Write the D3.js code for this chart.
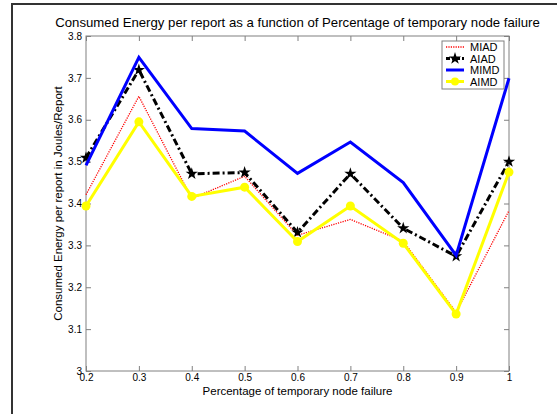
<!DOCTYPE html>
<html>
<head>
<meta charset="utf-8">
<title>Consumed Energy per report</title>
<script src="https://d3js.org/d3.v7.min.js"></script>
<style>
  body { margin: 0; background: #fff; }
  svg { display: block; font-family: Arial, "Liberation Sans", sans-serif; }
</style>
</head>
<body>
<script>
var failure = [0.2, 0.3, 0.4, 0.5, 0.6, 0.7, 0.8, 0.9, 1.0];
var miad = [3.421, 3.656, 3.412, 3.465, 3.324, 3.362, 3.31, 3.14, 3.383];
var aiad = [3.509, 3.719, 3.471, 3.474, 3.331, 3.471, 3.341, 3.274, 3.50];
var mimd = [3.491, 3.749, 3.579, 3.573, 3.472, 3.547, 3.45, 3.276, 3.699];
var aimd = [3.394, 3.595, 3.417, 3.439, 3.309, 3.394, 3.305, 3.136, 3.475];
var seriesNames = ["MIAD", "AIAD", "MIMD", "AIMD"];
var xTicks = [0.2, 0.3, 0.4, 0.5, 0.6, 0.7, 0.8, 0.9, 1];
var yTicks = [3, 3.1, 3.2, 3.3, 3.4, 3.5, 3.6, 3.7, 3.8];

var width = 557, height = 414;
var plotL = 86, plotR = 509, plotT = 36, plotB = 371;

var svg = d3.select("body").append("svg")
  .attr("width", width).attr("height", height);

// outer figure frame (top and left edges only visible)
svg.append("path")
  .attr("d", "M12,414 L12,4 L557,4")
  .attr("fill", "none").attr("stroke", "#333").attr("stroke-width", 2);

var x = d3.scaleLinear().domain([0.2, 1]).range([plotL, plotR]);
var y = d3.scaleLinear().domain([3, 3.8]).range([plotB, plotT]);

var axisColor = "#808080";

// plot box
svg.append("rect")
  .attr("x", plotL).attr("y", plotT)
  .attr("width", plotR - plotL).attr("height", plotB - plotT)
  .attr("fill", "#fff").attr("stroke", axisColor).attr("stroke-width", 1);

function styleAxis(g) {
  g.select(".domain").remove();
  g.selectAll(".tick line").attr("stroke", axisColor);
  g.selectAll(".tick text").attr("fill", "#000").attr("font-size", 10);
}

svg.append("g").attr("transform", "translate(0," + plotB + ")")
  .call(d3.axisBottom(x).tickValues(xTicks).tickFormat(d3.format("")).tickSizeInner(-5).tickSizeOuter(0).tickPadding(3))
  .call(styleAxis);
svg.append("g").attr("transform", "translate(0," + plotT + ")")
  .call(d3.axisTop(x).tickValues(xTicks).tickFormat("").tickSizeInner(-5).tickSizeOuter(0))
  .call(styleAxis);
svg.append("g").attr("transform", "translate(" + plotL + ",0)")
  .call(d3.axisLeft(y).tickValues(yTicks).tickFormat(d3.format("")).tickSizeInner(-5).tickSizeOuter(0).tickPadding(4))
  .call(styleAxis);
svg.append("g").attr("transform", "translate(" + plotR + ",0)")
  .call(d3.axisRight(y).tickValues(yTicks).tickFormat("").tickSizeInner(-5).tickSizeOuter(0))
  .call(styleAxis);

var series = [
  { name: "MIAD", values: miad, color: "#ff0000", width: 1.3, dash: "1.2,1.2", marker: null },
  { name: "AIAD", values: aiad, color: "#000000", width: 3, dash: "7,3,2,3", marker: "star" },
  { name: "MIMD", values: mimd, color: "#0000ff", width: 3, dash: null, marker: null },
  { name: "AIMD", values: aimd, color: "#ffff00", width: 3, dash: null, marker: "circle" }
];

var line = d3.line()
  .x(function(d) { return x(d.x); })
  .y(function(d) { return y(d.y); });

var plot = svg.append("g");
series.forEach(function(s) {
  var pts = failure.map(function(f, i) { return { x: f, y: s.values[i] }; });
  plot.append("path")
    .datum(pts)
    .attr("d", line)
    .attr("fill", "none")
    .attr("stroke", s.color)
    .attr("stroke-width", s.width)
    .attr("stroke-dasharray", s.dash)
    .attr("stroke-linejoin", "miter");
  if (s.marker === "circle") {
    plot.selectAll(null).data(pts).enter().append("circle")
      .attr("cx", function(d) { return x(d.x); })
      .attr("cy", function(d) { return y(d.y); })
      .attr("r", 4.5)
      .attr("fill", s.color);
  } else if (s.marker === "star") {
    plot.selectAll(null).data(pts).enter().append("path")
      .attr("transform", function(d) { return "translate(" + x(d.x) + "," + y(d.y) + ")"; })
      .attr("d", d3.symbol().type(d3.symbolStar).size(18))
      .attr("fill", s.color)
      .attr("stroke", s.color)
      .attr("stroke-width", 1.5);
  }
});

// title and axis labels
svg.append("text")
  .attr("x", (plotL + plotR) / 2).attr("y", 27)
  .attr("text-anchor", "middle").attr("font-size", 13.2)
  .text("Consumed Energy per report as a function of Percentage of temporary node failure");
svg.append("text")
  .attr("x", (plotL + plotR) / 2).attr("y", 395)
  .attr("text-anchor", "middle").attr("font-size", 11.5)
  .text("Percentage of temporary node failure");
svg.append("text")
  .attr("transform", "translate(62," + ((plotT + plotB) / 2) + ") rotate(-90)")
  .attr("text-anchor", "middle").attr("font-size", 11.5)
  .text("Consumed Energy per report in Joules/Report");

// legend
var lg = svg.append("g").attr("transform", "translate(442,41)");
lg.append("rect")
  .attr("width", 62).attr("height", 48)
  .attr("fill", "#fff").attr("stroke", axisColor).attr("stroke-width", 1);
series.forEach(function(s, i) {
  var ly = 6 + i * 11.5;
  lg.append("line")
    .attr("x1", 4).attr("x2", 22).attr("y1", ly).attr("y2", ly)
    .attr("stroke", s.color)
    .attr("stroke-width", s.width)
    .attr("stroke-dasharray", s.dash === null ? null : (s.name === "MIAD" ? "1.2,1.2" : "4,2,2,2"));
  if (s.marker === "circle") {
    lg.append("circle").attr("cx", 13).attr("cy", ly).attr("r", 4).attr("fill", s.color);
  } else if (s.marker === "star") {
    lg.append("path").attr("transform", "translate(13," + ly + ")")
      .attr("d", d3.symbol().type(d3.symbolStar).size(18)).attr("fill", s.color)
      .attr("stroke", s.color).attr("stroke-width", 1.5);
  }
  lg.append("text")
    .attr("x", 28).attr("y", ly + 4)
    .attr("font-size", 11)
    .text(s.name);
});
</script>
</body>
</html>
